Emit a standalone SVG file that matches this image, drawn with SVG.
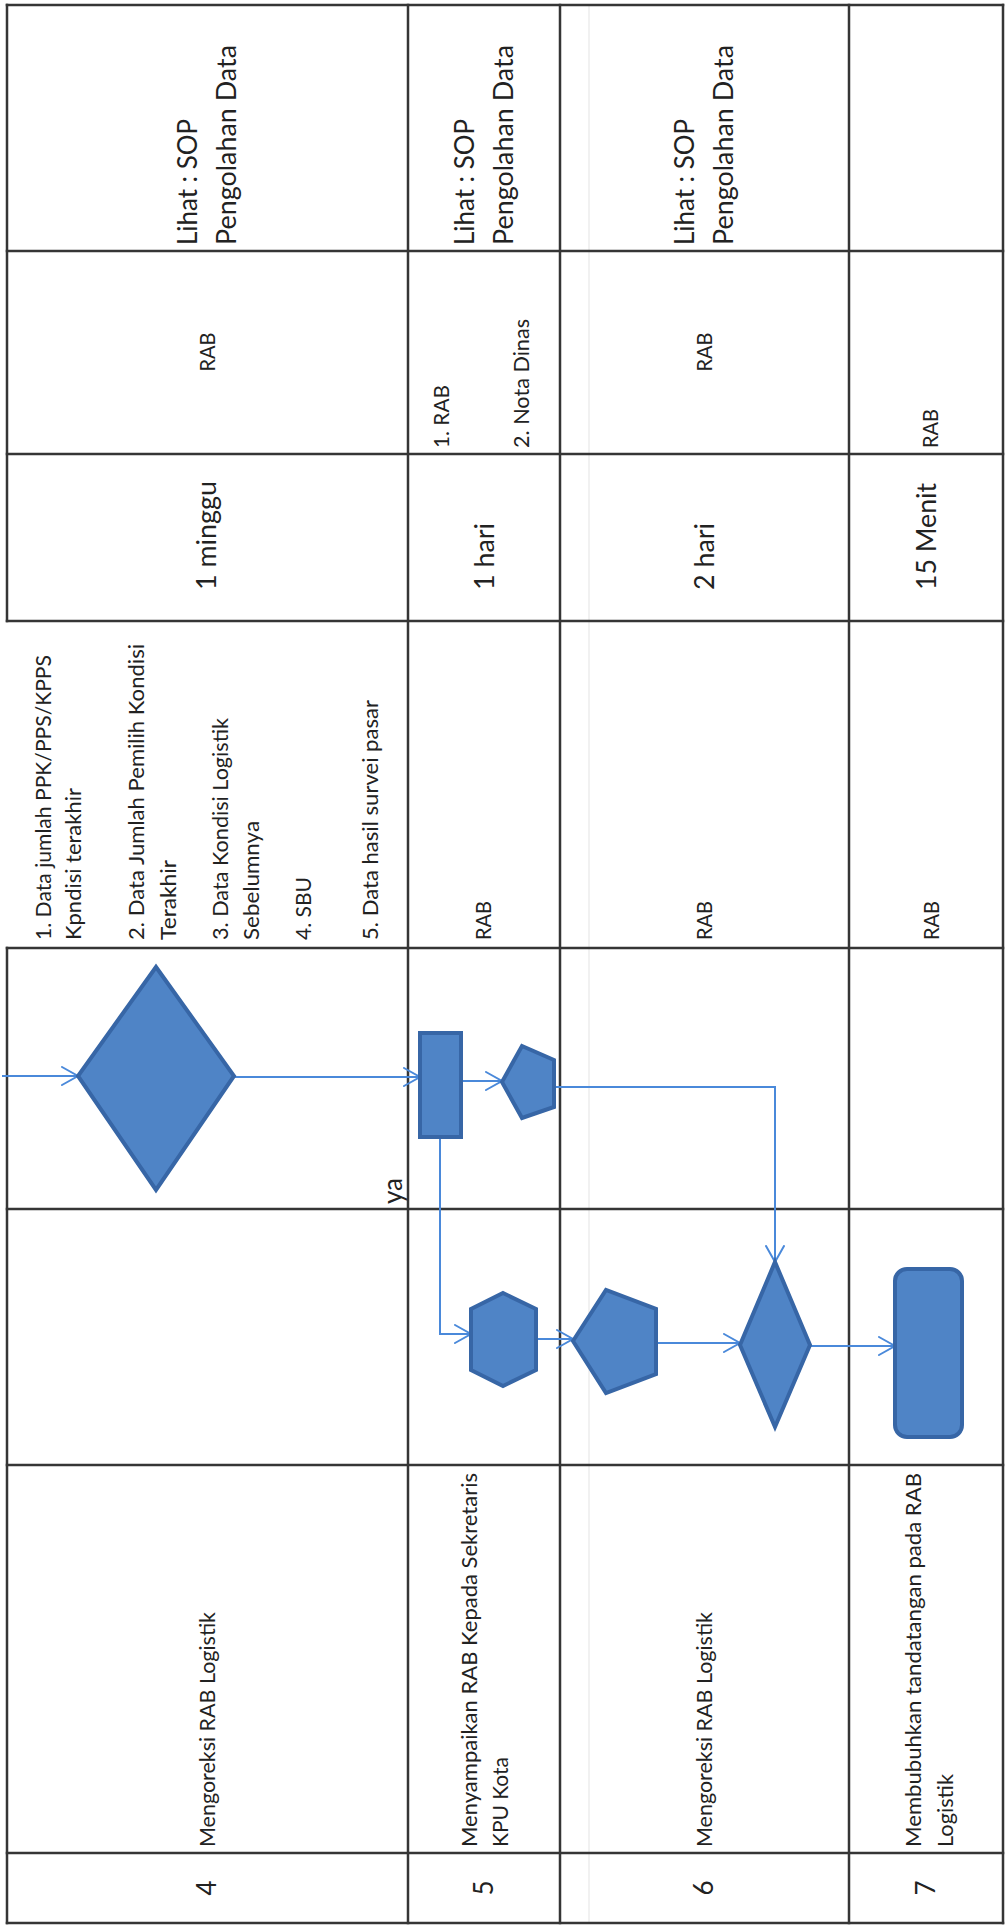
<svg xmlns="http://www.w3.org/2000/svg" width="1005" height="1925" viewBox="0 0 1005 1925">
<defs>
<style>
.grid{stroke:#353535;stroke-width:2.5;fill:none;stroke-linecap:square}
.faint{stroke:#ececec;stroke-width:1.5}
.t{font-family:Lato,"Liberation Sans",sans-serif;fill:#222222}
.s{font-size:22px}
.l{font-size:27px}
.n{font-size:26px}
.shape{fill:#4f84c6;stroke:#3766a6;stroke-width:4;stroke-linejoin:miter}
.con{fill:none;stroke:#4a89da;stroke-width:2}
</style>
<marker id="arr" markerUnits="userSpaceOnUse" markerWidth="20" markerHeight="22" refX="17" refY="10" orient="auto" viewBox="0 0 20 22">
<path d="M1,1 L17,10 L1,19" fill="none" stroke="#4a89da" stroke-width="2" stroke-linecap="round"/>
</marker>
</defs>
<rect x="0" y="0" width="1005" height="1925" fill="#ffffff"/>
<line class="faint" x1="589" y1="6" x2="589" y2="1922"/>
<g id="table">
<line class="grid" x1="7" y1="5" x2="1003" y2="5"/>
<line class="grid" x1="7" y1="251" x2="1003" y2="251"/>
<line class="grid" x1="7" y1="454" x2="1003" y2="454"/>
<line class="grid" x1="7" y1="621" x2="1003" y2="621"/>
<line class="grid" x1="7" y1="948" x2="1003" y2="948"/>
<line class="grid" x1="7" y1="1209" x2="1003" y2="1209"/>
<line class="grid" x1="7" y1="1465" x2="1003" y2="1465"/>
<line class="grid" x1="7" y1="1853" x2="1003" y2="1853"/>
<line class="grid" x1="7" y1="1923" x2="1003" y2="1923"/>
<line class="grid" x1="7" y1="5" x2="7" y2="621"/>
<line class="grid" x1="7" y1="948" x2="7" y2="1923"/>
<line class="grid" x1="408" y1="5" x2="408" y2="1923"/>
<line class="grid" x1="560" y1="5" x2="560" y2="1923"/>
<line class="grid" x1="849" y1="5" x2="849" y2="1923"/>
<line class="grid" x1="1003" y1="5" x2="1003" y2="1923"/>
</g>
<g id="row4-text">
<text class="t l" transform="translate(197,245) rotate(-90)" textLength="126" lengthAdjust="spacingAndGlyphs">Lihat : SOP</text>
<text class="t l" transform="translate(236,245) rotate(-90)" textLength="200" lengthAdjust="spacingAndGlyphs">Pengolahan Data</text>
<text class="t s" transform="translate(215,352) rotate(-90)" text-anchor="middle" textLength="39" lengthAdjust="spacingAndGlyphs">RAB</text>
<text class="t l" transform="translate(216,590) rotate(-90)" textLength="109" lengthAdjust="spacingAndGlyphs">1 minggu</text>
<text class="t s" transform="translate(51,940) rotate(-90)" textLength="285" lengthAdjust="spacingAndGlyphs">1. Data jumlah PPK/PPS/KPPS</text>
<text class="t s" transform="translate(81,940) rotate(-90)" textLength="152" lengthAdjust="spacingAndGlyphs">Kpndisi terakhir</text>
<text class="t s" transform="translate(144,940) rotate(-90)" textLength="296" lengthAdjust="spacingAndGlyphs">2. Data Jumlah Pemilih Kondisi</text>
<text class="t s" transform="translate(176,940) rotate(-90)" textLength="80" lengthAdjust="spacingAndGlyphs">Terakhir</text>
<text class="t s" transform="translate(228,940) rotate(-90)" textLength="222" lengthAdjust="spacingAndGlyphs">3. Data Kondisi Logistik</text>
<text class="t s" transform="translate(259,940) rotate(-90)" textLength="119" lengthAdjust="spacingAndGlyphs">Sebelumnya</text>
<text class="t s" transform="translate(311,940) rotate(-90)" textLength="63" lengthAdjust="spacingAndGlyphs">4. SBU</text>
<text class="t s" transform="translate(378,940) rotate(-90)" textLength="240" lengthAdjust="spacingAndGlyphs">5. Data hasil survei pasar</text>
<text class="t s" transform="translate(215,1847) rotate(-90)" textLength="235" lengthAdjust="spacingAndGlyphs">Mengoreksi RAB Logistik</text>
<text class="t n" transform="translate(216,1888) rotate(-90)" text-anchor="middle">4</text>
</g>
<g id="row5-text">
<text class="t l" transform="translate(474,245) rotate(-90)" textLength="126" lengthAdjust="spacingAndGlyphs">Lihat : SOP</text>
<text class="t l" transform="translate(513,245) rotate(-90)" textLength="200" lengthAdjust="spacingAndGlyphs">Pengolahan Data</text>
<text class="t s" transform="translate(449,448) rotate(-90)" textLength="63" lengthAdjust="spacingAndGlyphs">1. RAB</text>
<text class="t s" transform="translate(529,448) rotate(-90)" textLength="129" lengthAdjust="spacingAndGlyphs">2. Nota Dinas</text>
<text class="t l" transform="translate(494,590) rotate(-90)" textLength="67" lengthAdjust="spacingAndGlyphs">1 hari</text>
<text class="t s" transform="translate(491,940) rotate(-90)" textLength="39" lengthAdjust="spacingAndGlyphs">RAB</text>
<text class="t s" transform="translate(477,1847) rotate(-90)" textLength="374" lengthAdjust="spacingAndGlyphs">Menyampaikan RAB Kepada Sekretaris</text>
<text class="t s" transform="translate(508,1847) rotate(-90)" textLength="90" lengthAdjust="spacingAndGlyphs">KPU Kota</text>
<text class="t n" transform="translate(493,1888) rotate(-90)" text-anchor="middle">5</text>
</g>
<g id="row6-text">
<text class="t l" transform="translate(694,245) rotate(-90)" textLength="126" lengthAdjust="spacingAndGlyphs">Lihat : SOP</text>
<text class="t l" transform="translate(733,245) rotate(-90)" textLength="200" lengthAdjust="spacingAndGlyphs">Pengolahan Data</text>
<text class="t s" transform="translate(712,352) rotate(-90)" text-anchor="middle" textLength="39" lengthAdjust="spacingAndGlyphs">RAB</text>
<text class="t l" transform="translate(714,590) rotate(-90)" textLength="67" lengthAdjust="spacingAndGlyphs">2 hari</text>
<text class="t s" transform="translate(712,940) rotate(-90)" textLength="39" lengthAdjust="spacingAndGlyphs">RAB</text>
<text class="t s" transform="translate(712,1847) rotate(-90)" textLength="235" lengthAdjust="spacingAndGlyphs">Mengoreksi RAB Logistik</text>
<text class="t n" transform="translate(713,1888) rotate(-90)" text-anchor="middle">6</text>
</g>
<g id="row7-text">
<text class="t s" transform="translate(938,448) rotate(-90)" textLength="39" lengthAdjust="spacingAndGlyphs">RAB</text>
<text class="t l" transform="translate(936,590) rotate(-90)" textLength="107" lengthAdjust="spacingAndGlyphs">15 Menit</text>
<text class="t s" transform="translate(939,940) rotate(-90)" textLength="39" lengthAdjust="spacingAndGlyphs">RAB</text>
<text class="t s" transform="translate(921,1847) rotate(-90)" textLength="374" lengthAdjust="spacingAndGlyphs">Membubuhkan tandatangan pada RAB</text>
<text class="t s" transform="translate(953,1847) rotate(-90)" textLength="73" lengthAdjust="spacingAndGlyphs">Logistik</text>
<text class="t n" transform="translate(935,1888) rotate(-90)" text-anchor="middle">7</text>
</g>
<g id="connectors">
<path class="con" d="M2,1076 H78" marker-end="url(#arr)"/>
<path class="con" d="M234,1077 H420" marker-end="url(#arr)"/>
<path class="con" d="M461,1081 H502" marker-end="url(#arr)"/>
<path class="con" d="M554,1087 H775 V1262" marker-end="url(#arr)"/>
<path class="con" d="M440,1137 V1334 H471" marker-end="url(#arr)"/>
<path class="con" d="M536,1339 H573" marker-end="url(#arr)"/>
<path class="con" d="M656,1343 H740" marker-end="url(#arr)"/>
<path class="con" d="M810,1346 H895" marker-end="url(#arr)"/>
<text class="t" font-size="26" transform="translate(402,1204) rotate(-90)" textLength="26" lengthAdjust="spacingAndGlyphs">ya</text>
</g>
<g id="node-decision1"><polygon class="shape" points="156,967 234,1076 156,1190 78,1076"/></g>
<g id="node-process1"><rect class="shape" x="420" y="1033" width="41" height="104"/></g>
<g id="node-pentagon1"><polygon class="shape" points="502,1082 522,1046 554,1060 554,1107 522,1118"/></g>
<g id="node-hexagon1"><polygon class="shape" points="503,1293 536,1309 536,1370 503,1386 471,1370 471,1309"/></g>
<g id="node-pentagon2"><polygon class="shape" points="573,1341 606,1290 656,1309 656,1374 606,1393"/></g>
<g id="node-decision2"><polygon class="shape" points="775,1262 810,1345 775,1427 740,1345"/></g>
<g id="node-terminal"><rect class="shape" x="895" y="1269" width="67" height="168" rx="12" ry="12"/></g>
</svg>
